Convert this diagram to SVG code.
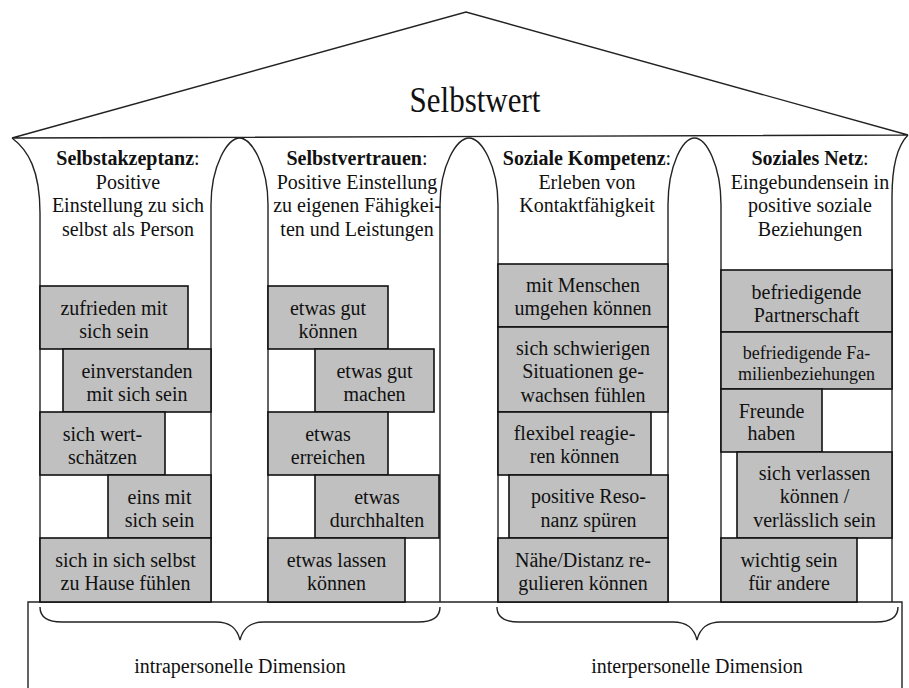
<svg xmlns="http://www.w3.org/2000/svg" width="909" height="688" viewBox="0 0 909 688">
<style>
.ln{fill:none;stroke:#222;stroke-width:1.4}
.bx{fill:#c0c0c0;stroke:#111;stroke-width:1.6}
.t{font-family:"Liberation Serif","Times New Roman",serif;font-size:20px;fill:#111;text-anchor:middle}
.b{font-weight:bold}
</style>
<rect width="909" height="688" fill="#fff"/>
<g id="roof">
<path class="ln" d="M12,138 L466,12 L908,135 M12,138 L908,135"/>
<text class="t" x="475" y="0" style="font-size:31px" transform="translate(0,112) scale(1,1.15)">Selbstwert</text>
</g>
<g id="columns">
<path class="ln" d="M12,138 C28,150 40,170 40,213 L40,602"/>
<path class="ln" d="M211,602 L211,205 C211,165 228,138 239.5,138 C251,138 268,165 268,205 L268,602"/>
<path class="ln" d="M440,602 L440,205 C440,165 457,138 469,138 C481,138 498,165 498,205 L498,602"/>
<path class="ln" d="M668,602 L668,205 C668,165 683,138 694.5,138 C706,138 721,165 721,205 L721,602"/>
<path class="ln" d="M908,135 C898,145 892,165 892,197 L892,602"/>
</g>
<g id="base">
<path class="ln" d="M28,690 L28,602 L902,602 L902,690"/>
</g>
<g id="headers">
<text class="t" x="128" y="165"><tspan class="b">Selbstakzeptanz</tspan>:</text>
<text class="t" x="128" y="189">Positive</text>
<text class="t" x="128" y="212">Einstellung zu sich</text>
<text class="t" x="128" y="236">selbst als Person</text>
<text class="t" x="357" y="165"><tspan class="b">Selbstvertrauen</tspan>:</text>
<text class="t" x="357" y="189">Positive Einstellung</text>
<text class="t" x="357" y="212">zu eigenen Fähigkei-</text>
<text class="t" x="357" y="236">ten und Leistungen</text>
<text class="t" x="587" y="165"><tspan class="b">Soziale Kompetenz</tspan>:</text>
<text class="t" x="587" y="189">Erleben von</text>
<text class="t" x="587" y="212">Kontaktfähigkeit</text>
<text class="t" x="810" y="165"><tspan class="b">Soziales Netz</tspan>:</text>
<text class="t" x="810" y="189">Eingebundensein in</text>
<text class="t" x="810" y="212">positive soziale</text>
<text class="t" x="810" y="236">Beziehungen</text>
</g>
<g id="n-zufrieden"><rect class="bx" x="40" y="286" width="148" height="63"/><text class="t" x="114" y="315">zufrieden mit</text><text class="t" x="114" y="338">sich sein</text></g>
<g id="n-einverstanden"><rect class="bx" x="63" y="349" width="148" height="63"/><text class="t" x="137" y="378">einverstanden</text><text class="t" x="137" y="401">mit sich sein</text></g>
<g id="n-wertschaetzen"><rect class="bx" x="40" y="412" width="125" height="63"/><text class="t" x="102.5" y="441">sich wert-</text><text class="t" x="102.5" y="464">schätzen</text></g>
<g id="n-einsmit"><rect class="bx" x="108" y="475" width="103" height="63"/><text class="t" x="159.5" y="504">eins mit</text><text class="t" x="159.5" y="527">sich sein</text></g>
<g id="n-zuhause"><rect class="bx" x="40" y="538" width="171" height="64"/><text class="t" x="125.5" y="567">sich in sich selbst</text><text class="t" x="125.5" y="590">zu Hause fühlen</text></g>
<g id="n-gutkoennen"><rect class="bx" x="268" y="286" width="120" height="63"/><text class="t" x="328" y="315">etwas gut</text><text class="t" x="328" y="338">können</text></g>
<g id="n-gutmachen"><rect class="bx" x="315" y="349" width="119" height="63"/><text class="t" x="374.5" y="378">etwas gut</text><text class="t" x="374.5" y="401">machen</text></g>
<g id="n-erreichen"><rect class="bx" x="268" y="412" width="120" height="63"/><text class="t" x="328" y="441">etwas</text><text class="t" x="328" y="464">erreichen</text></g>
<g id="n-durchhalten"><rect class="bx" x="315" y="475" width="124" height="63"/><text class="t" x="377" y="504">etwas</text><text class="t" x="377" y="527">durchhalten</text></g>
<g id="n-lassen"><rect class="bx" x="268" y="538" width="137" height="64"/><text class="t" x="336.5" y="567">etwas lassen</text><text class="t" x="336.5" y="590">können</text></g>
<g id="n-menschen"><rect class="bx" x="498" y="264" width="170" height="63"/><text class="t" x="583" y="292">mit Menschen</text><text class="t" x="583" y="315">umgehen können</text></g>
<g id="n-schwierig"><rect class="bx" x="498" y="327" width="170" height="85"/><text class="t" x="583" y="355">sich schwierigen</text><text class="t" x="583" y="378">Situationen ge-</text><text class="t" x="583" y="402">wachsen fühlen</text></g>
<g id="n-flexibel"><rect class="bx" x="498" y="412" width="153" height="63"/><text class="t" x="574.5" y="440">flexibel reagie-</text><text class="t" x="574.5" y="463">ren können</text></g>
<g id="n-resonanz"><rect class="bx" x="509" y="475" width="159" height="63"/><text class="t" x="588.5" y="503">positive Reso-</text><text class="t" x="588.5" y="527">nanz spüren</text></g>
<g id="n-naehe"><rect class="bx" x="498" y="538" width="170" height="64"/><text class="t" x="583" y="567">Nähe/Distanz re-</text><text class="t" x="583" y="590">gulieren können</text></g>
<g id="n-partnerschaft"><rect class="bx" x="721" y="270" width="171" height="62"/><text class="t" x="806.5" y="299">befriedigende</text><text class="t" x="806.5" y="322">Partnerschaft</text></g>
<g id="n-familie"><rect class="bx" x="721" y="332" width="171" height="57"/><text class="t" x="806.5" y="359" style="font-size:18px">befriedigende Fa-</text><text class="t" x="806.5" y="380" style="font-size:18px">milienbeziehungen</text></g>
<g id="n-freunde"><rect class="bx" x="721" y="389" width="101" height="63"/><text class="t" x="771.5" y="418">Freunde</text><text class="t" x="771.5" y="440">haben</text></g>
<g id="n-verlassen"><rect class="bx" x="737" y="452" width="155" height="86"/><text class="t" x="814.5" y="480">sich verlassen</text><text class="t" x="814.5" y="503">können /</text><text class="t" x="814.5" y="527">verlässlich sein</text></g>
<g id="n-wichtig"><rect class="bx" x="721" y="538" width="136" height="64"/><text class="t" x="789" y="567">wichtig sein</text><text class="t" x="789" y="590">für andere</text></g>
<g id="connectors">
<path class="ln" d="M40,607 C40,618 48,622 62,622 L216,622 C230,622 237,628 240,640 C243,628 250,622 264,622 L418,622 C432,622 440,618 440,607"/>
<path class="ln" d="M497,607 C497,618 505,622 519,622 L673,622 C687,622 694,628 697,640 C700,628 707,622 721,622 L876,622 C890,622 898,618 898,607"/>
</g>
<g id="labels">
<text class="t" x="240" y="673">intrapersonelle Dimension</text>
<text class="t" x="697" y="673">interpersonelle Dimension</text>
</g>
</svg>
